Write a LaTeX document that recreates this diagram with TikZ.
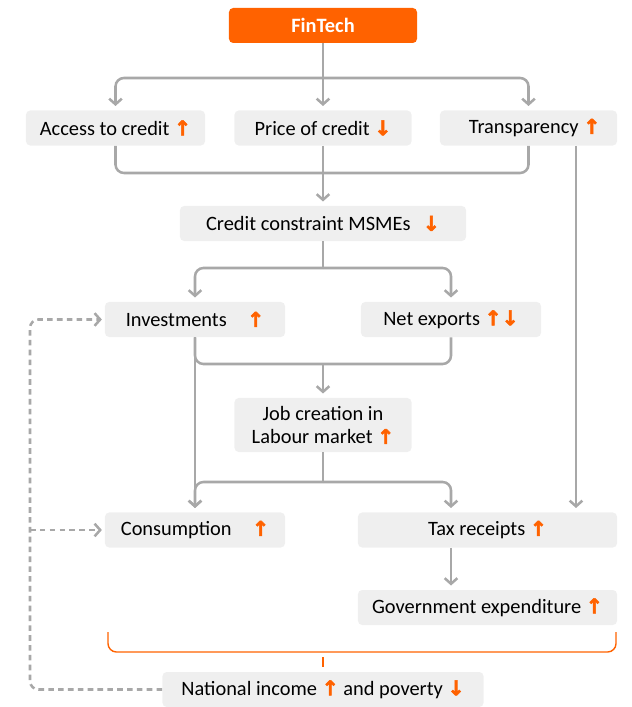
\documentclass[tikz,border=0pt]{standalone}
\usepackage{fontspec}
\setmainfont{Carlito}
\newfontfamily\arrowfont[FakeBold=2.5]{DejaVu Sans Bold}
\usetikzlibrary{arrows.meta}
\usepackage{xcolor}
\definecolor{ingorange}{HTML}{FF6200}
\definecolor{boxgray}{HTML}{EFEFEF}
\definecolor{linegray}{HTML}{A8A8A8}
\newcommand{\upmark}{{\arrowfont\textcolor{ingorange}{↑}}}
\newcommand{\downmark}{{\arrowfont\textcolor{ingorange}{↓}}}

\begin{document}
\begin{tikzpicture}[x=0.025cm, y=-0.025cm,
  font=\fontsize{14.5}{17}\selectfont,
  box/.style={fill=boxgray, rounded corners=3pt, minimum height=0.875cm, inner sep=2pt},
  hub/.style={fill=ingorange, text=white, font=\fontsize{14.5}{17}\selectfont\bfseries, rounded corners=3pt, minimum height=0.875cm, minimum width=4.7cm},
  line/.style={draw=linegray, line width=1.8pt, rounded corners=6pt},
  link/.style={line, -{Straight Barb[length=4pt,width=9pt]}, shorten >=3pt},
  feedback/.style={line, dash pattern=on 4pt off 3pt, -{Straight Barb[length=4pt,width=9pt]}, shorten >=2pt},
  brace/.style={draw=ingorange, line width=1pt, rounded corners=6pt}]
\useasboundingbox (0,0) rectangle (631,707);
% boxes, at pixel coordinates of the box centres
\node[hub] (fintech) at (323,25.5) {FinTech};
\node[box, minimum width=4.475cm] (access) at (115.5,128) {Access to credit \upmark};
\node[box, minimum width=4.425cm] (price) at (323,128) {Price of credit \downmark};
\node[box, minimum width=4.425cm] (transp) at (528.5,128) {\hspace{0.6em}Transparency \upmark};
\node[box, minimum width=7.15cm] (credit) at (323,223.5) {Credit constraint MSMEs\hspace{0.6em}\downmark};
\node[box, minimum width=4.5cm] (invest) at (195,319.5) {Investments\hspace{1em}\upmark};
\node[box, minimum width=4.5cm] (netexp) at (451,319.5) {Net exports \upmark\downmark};
\node[box, minimum width=4.425cm, minimum height=1.35cm, align=center] (jobs) at (323,425) {Job creation in\\Labour market \upmark};
\node[box, minimum width=4.5cm] (consum) at (195,530) {Consumption\hspace{1em}\upmark};
\node[box, minimum width=6.475cm] (tax) at (487.5,530) {Tax receipts \upmark};
\node[box, minimum width=6.475cm] (govexp) at (487.5,607.5) {Government expenditure \upmark};
\node[box, minimum width=8.025cm] (income) at (323,689.5) {National income \upmark{} and poverty \downmark};

% split and merge points
\coordinate (split1) at (323,78);
\coordinate (merge1) at (323,173);
\coordinate (split2) at (323,268);
\coordinate (merge2) at (323,364);
\coordinate (split3) at (323,482);
\coordinate (loop) at (30,530);

% FinTech to the three channels
\draw[link] (fintech.south) -- (price.north);
\draw[link] (split1) -| (access.north);
\draw[link] (split1) -| (transp.north);
\draw[line] (access.south) |- (merge1) -| (transp.south);
\draw[link] (price.south) -- (credit.north);
% credit constraint to investments and net exports
\draw[line] (credit.south) -- (split2);
\draw[link] (split2) -| (invest.north);
\draw[link] (split2) -| (netexp.north);
\draw[line] (invest.south) |- (merge2) -| (netexp.south);
\draw[link] (merge2) -- (jobs.north);
\draw[link] (invest.south) -- (consum.north);
% jobs to consumption and tax
\draw[line] (jobs.south) -- (split3);
\draw[link] (split3) -| (consum.north);
\draw[link] (split3) -| (tax.north -| netexp.south);
\draw[link] (transp.south -| 576,0) -- (tax.north -| 576,0);
\draw[link] (tax.south -| netexp.south) -- (govexp.north -| netexp.south);

% orange bracket
\draw[brace] (108,632) |- (362,652) -| (616,632);
\draw[draw=ingorange, line width=1pt] (323,657) -- (323,667);

% feedback, dashed
\draw[feedback] (income.west) -| (30,319.5) -- (invest.west);
\draw[feedback] (loop) -- (consum.west);
\end{tikzpicture}
\end{document}
